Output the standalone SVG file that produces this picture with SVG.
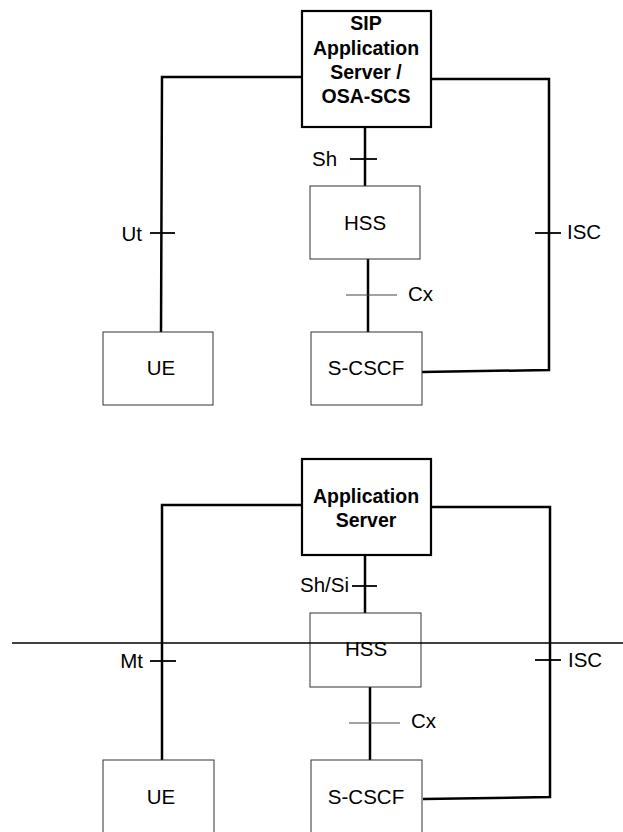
<svg xmlns="http://www.w3.org/2000/svg" width="623" height="832" viewBox="0 0 623 832">
<style>
text{font-family:"Liberation Sans",Arial,sans-serif;font-size:20.5px;fill:#000}
.b{font-weight:bold;font-size:19.5px}
.c{text-anchor:middle}
.e{text-anchor:end}
.as{fill:#fff;stroke:#000;stroke-width:2.2}
.box{fill:#fff;stroke:#333;stroke-width:1}
.w{fill:none;stroke:#000;stroke-width:2.5}
.t{fill:none;stroke:#000;stroke-width:1.8}
.tn{fill:none;stroke:#444;stroke-width:1}
</style>
<rect width="623" height="832" fill="#fff"/>
<g id="connectors">
<polyline class="w" points="302,77 162,77 161,335"/>
<line class="t" x1="150" y1="233" x2="175" y2="233"/>
<polyline class="w" points="431,79 549,79 549,370 422,372"/>
<line class="t" x1="535" y1="233" x2="561" y2="233"/>
<line class="w" x1="365" y1="127" x2="365" y2="186"/>
<line class="t" x1="350" y1="159" x2="377" y2="159"/>
<line class="w" x1="368" y1="259" x2="368" y2="332"/>
<line class="tn" x1="346" y1="295" x2="397" y2="295"/>
<polyline class="w" points="302,505 162,505 162,762"/>
<line class="t" x1="150" y1="661" x2="176" y2="661"/>
<polyline class="w" points="431,507 550,507 550,797 423,799"/>
<line class="t" x1="535" y1="660" x2="561" y2="660"/>
<line class="w" x1="365" y1="555" x2="365" y2="614"/>
<line class="t" x1="352" y1="586" x2="377" y2="586"/>
<line class="w" x1="370" y1="687" x2="370" y2="760"/>
<line class="tn" x1="349" y1="723" x2="400" y2="723"/>
</g>
<g id="labels">
<text class="e" x="142" y="241">Ut</text>
<text x="567" y="239">ISC</text>
<text x="312" y="166">Sh</text>
<text x="408" y="301">Cx</text>
<text class="e" x="143" y="668">Mt</text>
<text x="568" y="667">ISC</text>
<text x="300" y="592">Sh/Si</text>
<text x="411" y="728">Cx</text>
</g>
<g id="as1">
<rect class="as" x="302" y="11" width="129" height="116"/>
<text class="b c" x="366" y="30">SIP</text>
<text class="b c" x="366" y="55">Application</text>
<text class="b c" x="366" y="79">Server /</text>
<text class="b c" x="366" y="103">OSA-SCS</text>
</g>
<g id="hss1">
<rect class="box" x="310" y="186" width="110" height="73"/>
<text class="c" x="365" y="230">HSS</text>
</g>
<g id="scscf1">
<rect class="box" x="311" y="332" width="111" height="73"/>
<text class="c" x="366" y="375">S-CSCF</text>
</g>
<g id="ue1">
<rect class="box" x="103" y="332" width="110" height="73"/>
<text class="c" x="161" y="375">UE</text>
</g>
<g id="as2">
<rect class="as" x="302" y="459" width="129" height="96"/>
<text class="b c" x="366" y="503">Application</text>
<text class="b c" x="366" y="527">Server</text>
</g>
<g id="hss2">
<rect class="box" x="310" y="613" width="111" height="74"/>
<text class="c" x="366" y="656">HSS</text>
</g>
<g id="scscf2">
<rect class="box" x="311" y="760" width="111" height="80"/>
<text class="c" x="366" y="804">S-CSCF</text>
</g>
<g id="ue2">
<rect class="box" x="103" y="760" width="111" height="80"/>
<text class="c" x="161" y="804">UE</text>
</g>
<line id="divider" x1="12" y1="643" x2="623" y2="643" stroke="#000" stroke-width="1.3"/>
</svg>
